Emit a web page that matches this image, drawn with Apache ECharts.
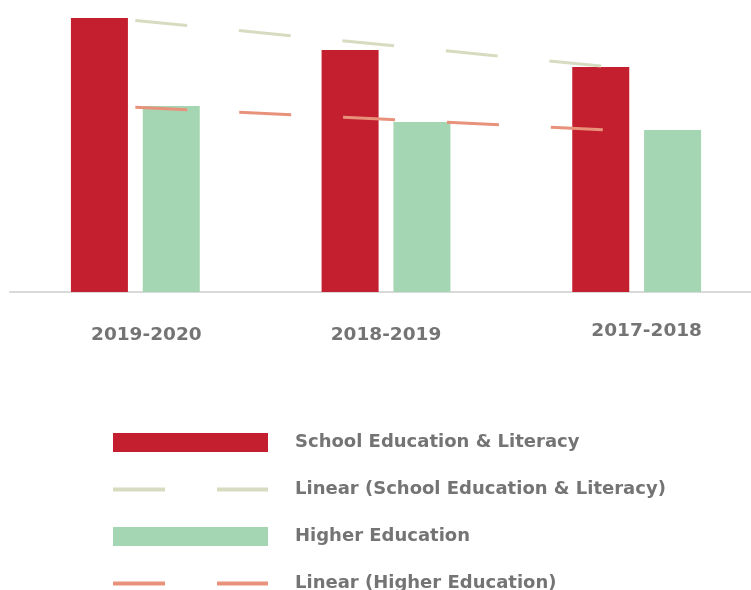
<!DOCTYPE html>
<html lang="en">
<head>
    <meta charset="utf-8">
    <script src="https://cdn.jsdelivr.net/npm/echarts@6/dist/echarts.min.js"></script>
    <style>
        html, body {
            margin: 0;
            padding: 0;
            background: #fff;
        }
        #main {
            width: 751px;
            height: 590px;
        }
    </style>
</head>
<body>
<div id="main"></div>

<script>
    // values (arbitrary units, 0 = axis line)
    var years = ['2019-2020', '2018-2019', '2017-2018'];
    var schoolEdu = [274, 242, 225];
    var higherEdu = [186, 170, 162];
    var schoolTrend = [271.5, 247, 222.5];
    var higherTrend = [184.7, 172.7, 160.7];

    var myChart = echarts.init(document.getElementById('main'));

    var textFont = '"DejaVu Sans", sans-serif';
    var noDot = {color: 'rgba(0,0,0,0)', borderWidth: 0};

    var option = {
        animation: false,
        backgroundColor: '#fff',
        grid: {
            left: 10,
            width: 752,
            top: 0,
            bottom: 298,
            containLabel: false,
            outerBoundsMode: 'none'
        },
        legend: {
            orient: 'vertical',
            left: 111,
            top: 433,
            height: 180,
            padding: 0,
            itemWidth: 155,
            itemHeight: 19,
            itemGap: 28,
            selectedMode: false,
            lineStyle: {width: 4},
            textStyle: {
                color: '#747474',
                fontSize: 18,
                fontWeight: 'bold',
                fontFamily: textFont,
                lineHeight: 13,
                padding: [0, 0, 6, 22]
            },
            data: [
                {name: 'School Education & Literacy', icon: 'rect'},
                {name: 'Linear (School Education & Literacy)', itemStyle: noDot},
                {name: 'Higher Education', icon: 'rect'},
                {name: 'Linear (Higher Education)', itemStyle: noDot}
            ]
        },
        xAxis: {
            type: 'category',
            data: years,
            axisTick: {show: false},
            axisLine: {
                lineStyle: {color: '#d9d9d9', width: 2}
            },
            axisLabel: {
                margin: 30,
                color: '#747474',
                fontSize: 18.5,
                fontWeight: 'bold',
                fontFamily: textFont,
                formatter: function (v, i) {
                    return '{c' + i + '|' + v + '}';
                },
                rich: {
                    c0: {padding: [4, 0, 0, 22]},
                    c1: {padding: [4, 0, 0, 0]},
                    c2: {padding: [0, 0, 0, 20]}
                }
            }
        },
        yAxis: {
            type: 'value',
            min: 0,
            max: 292,
            show: false
        },
        series: [
            {
                name: 'School Education & Literacy',
                type: 'bar',
                barWidth: 57,
                barGap: '26%',
                itemStyle: {color: '#c41f2e'},
                data: schoolEdu
            },
            {
                name: 'Higher Education',
                type: 'bar',
                barWidth: 57,
                itemStyle: {color: '#a5d6b3'},
                data: higherEdu
            },
            {
                name: 'Linear (School Education & Literacy)',
                type: 'line',
                symbol: 'none',
                z: 5,
                itemStyle: {color: '#d6dcc0'},
                lineStyle: {color: '#d6dcc0', width: 3, type: [52, 52]},
                data: schoolTrend
            },
            {
                name: 'Linear (Higher Education)',
                type: 'line',
                symbol: 'none',
                z: 5,
                itemStyle: {color: '#e8927c'},
                lineStyle: {color: '#e8927c', width: 3, type: [52, 52]},
                data: higherTrend
            }
        ]
    };

    myChart.setOption(option);
</script>
</body>
</html>
